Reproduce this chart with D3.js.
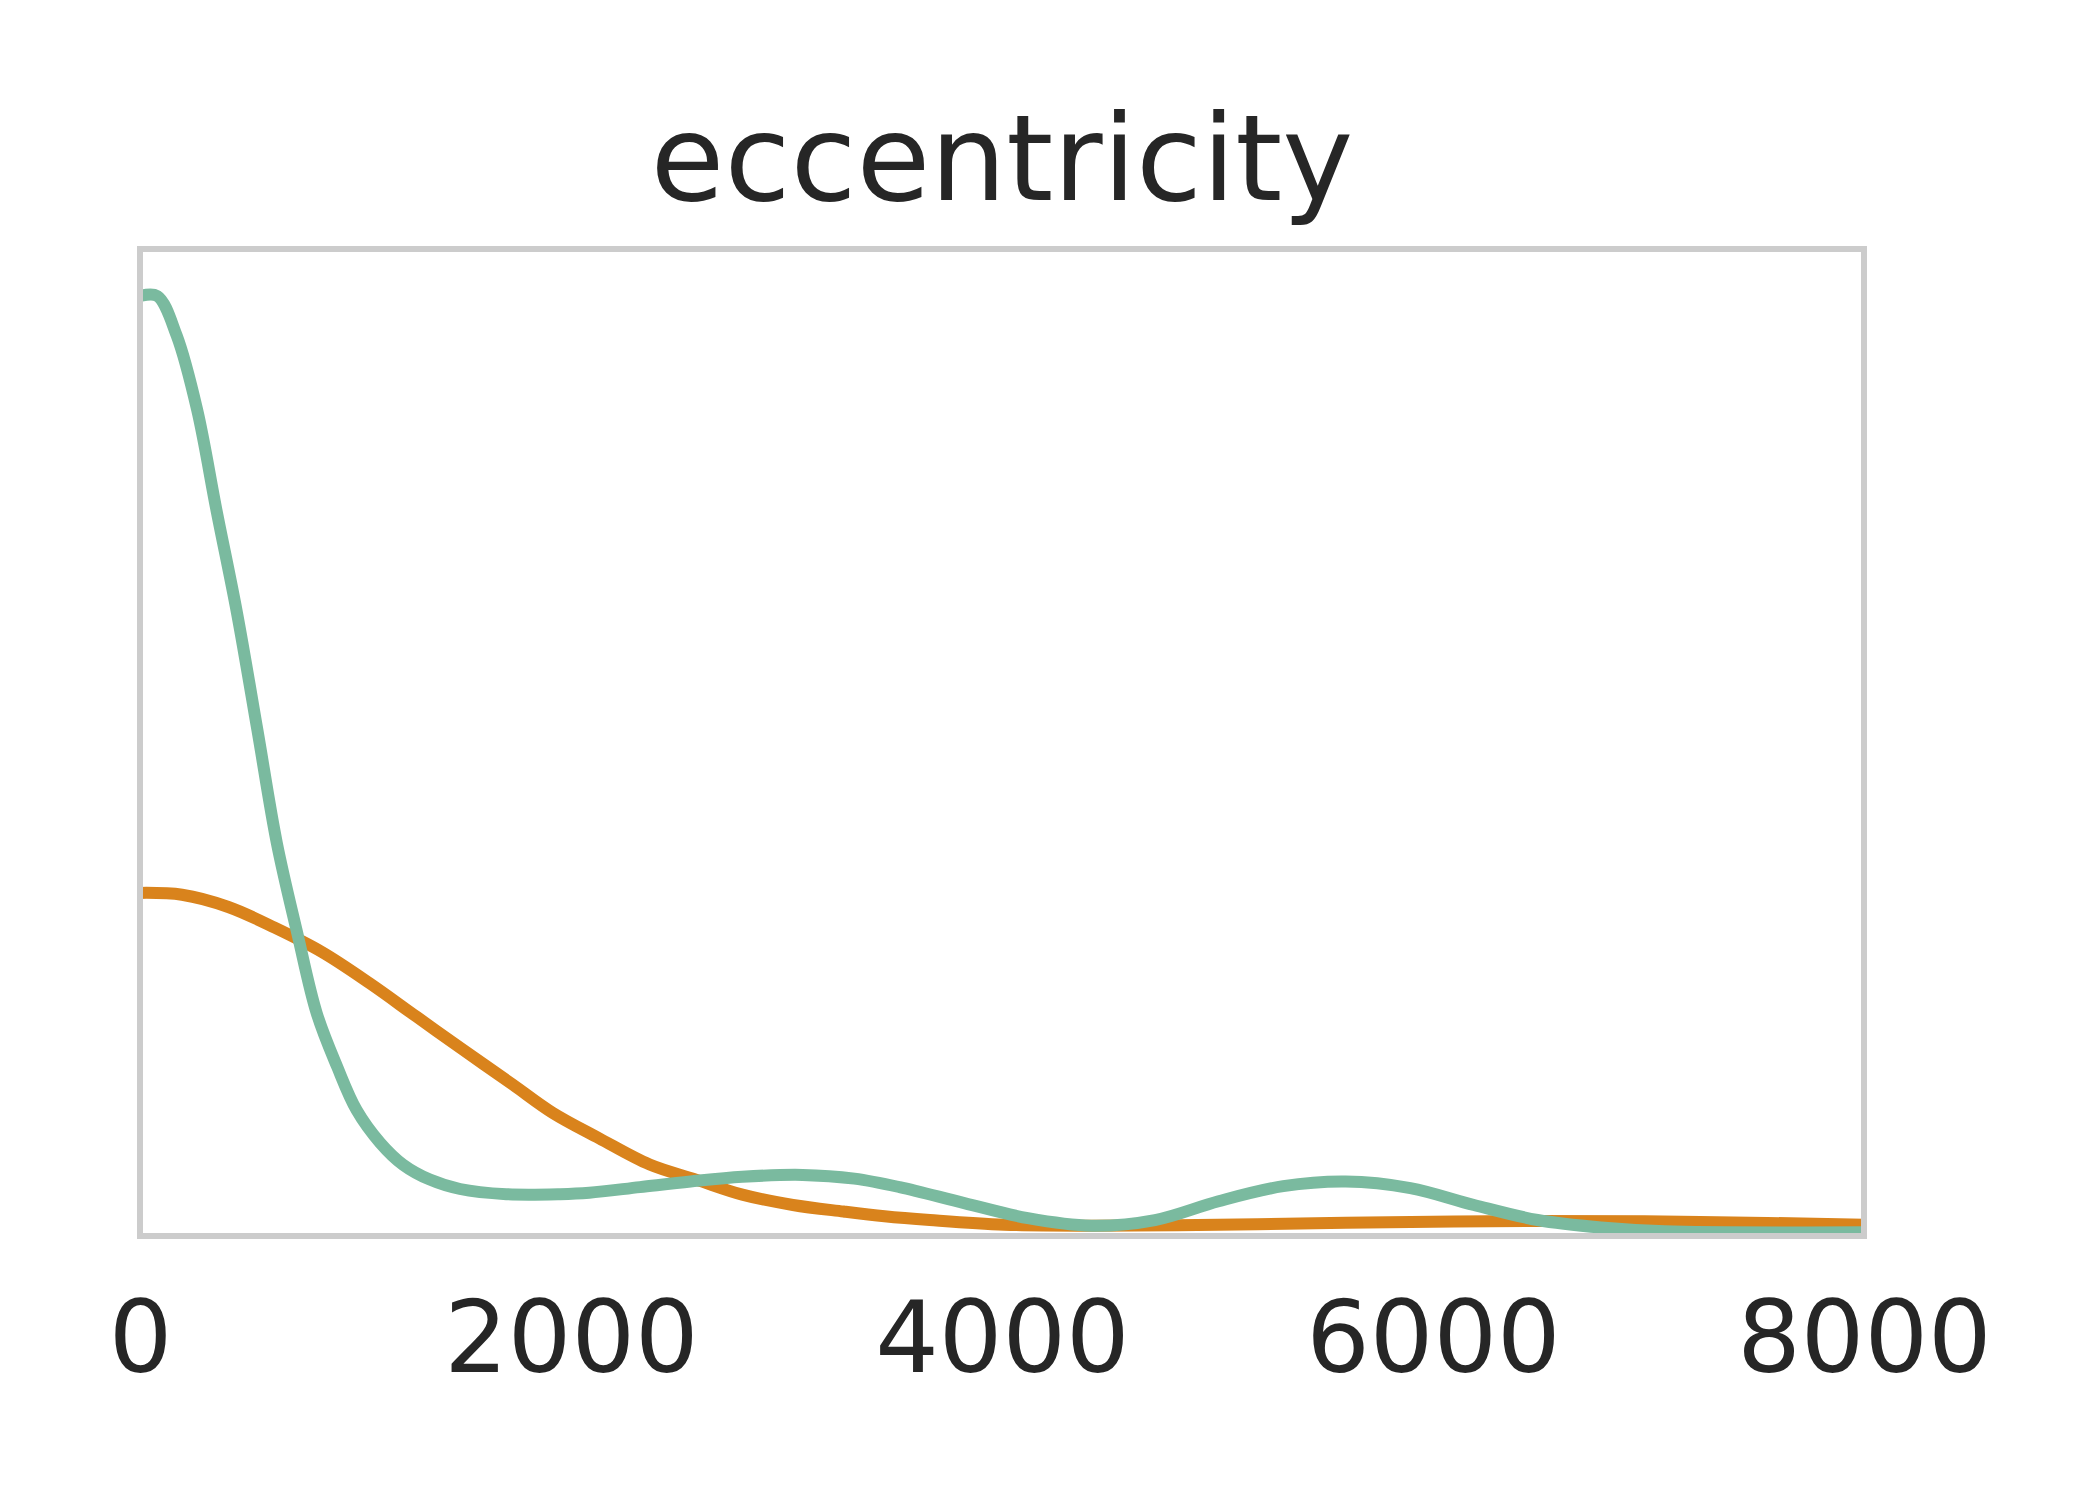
<!DOCTYPE html>
<html>
<head>
<meta charset="utf-8">
<script src="https://cdn.jsdelivr.net/npm/d3@7"></script>
<style>
  body { margin: 0; background: #fff; }
  text { font-family: "DejaVu Sans", sans-serif; fill: #262626; }
</style>
</head>
<body>
<div id="chart"></div>
<script>
// density curves (y in arbitrary density units)
var tealX = [0, 80, 170, 265, 355, 450, 545, 635, 730, 820, 915, 1005, 1115, 1220, 1345, 1485, 1700, 1950,
             2085, 2320, 2555, 2795, 3075, 3315, 3525, 3825, 4120, 4415, 4710, 5005, 5305, 5595, 5895,
             6190, 6485, 6780, 7075, 8000];
var tealY = [1.000, 1.000, 0.958, 0.879, 0.772, 0.663, 0.538, 0.418, 0.322, 0.237, 0.180, 0.134, 0.099, 0.076, 0.060, 0.050, 0.0445, 0.0445,
             0.046, 0.052, 0.058, 0.063, 0.065, 0.061, 0.052, 0.035, 0.019, 0.011, 0.017, 0.037, 0.053, 0.058, 0.051,
             0.033, 0.017, 0.009, 0.005, 0.004];

var orangeX = [0, 195, 410, 625, 845, 1065, 1285, 1500, 1730, 1915, 2130, 2365, 2580, 2795, 3030, 3265, 3455,
               3665, 4010, 4415, 5000, 5595, 6485, 7240, 8000];
var orangeY = [0.365, 0.363, 0.350, 0.328, 0.302, 0.269, 0.233, 0.198, 0.161, 0.131, 0.104, 0.076, 0.060, 0.044, 0.033, 0.026, 0.021,
               0.017, 0.012, 0.011, 0.012, 0.014, 0.016, 0.015, 0.012];

var xTicks = [0, 2000, 4000, 6000, 8000];
var title = "eccentricity";

var W = 2100, H = 1500;
var margin = {left: 140, right: 1864, top: 249, bottom: 1236};

var svg = d3.select("#chart").append("svg")
    .attr("width", W)
    .attr("height", H);

var x = d3.scaleLinear().domain([0, 8000]).range([margin.left, margin.right]);
var y = d3.scaleLinear().domain([0, 1.05]).range([margin.bottom, margin.top]);

svg.append("clipPath").attr("id", "plot")
  .append("rect")
    .attr("x", margin.left).attr("y", margin.top)
    .attr("width", margin.right - margin.left).attr("height", margin.bottom - margin.top);

var line = d3.line()
    .x(function(d) { return x(d[0]); })
    .y(function(d) { return y(d[1]); })
    .curve(d3.curveCatmullRom.alpha(0.5));

var series = [
  { xs: orangeX, ys: orangeY, color: "#d9831c" },
  { xs: tealX, ys: tealY, color: "#7aba9f" }
];

series.forEach(function(s) {
  svg.append("path")
      .datum(s.xs.map(function(v, i) { return [v, s.ys[i]]; }))
      .attr("clip-path", "url(#plot)")
      .attr("fill", "none")
      .attr("stroke", s.color)
      .attr("stroke-width", 12)
      .attr("stroke-linejoin", "round")
      .attr("d", line);
});

// frame
svg.append("rect")
    .attr("x", margin.left).attr("y", margin.top)
    .attr("width", margin.right - margin.left).attr("height", margin.bottom - margin.top)
    .attr("fill", "none")
    .attr("stroke", "#cccccc")
    .attr("stroke-width", 6);

// x axis labels only
var ax = svg.append("g")
    .attr("transform", "translate(0," + margin.bottom + ")")
    .call(d3.axisBottom(x).tickValues(xTicks).tickSize(0).tickFormat(d3.format("d")));
ax.select(".domain").remove();
ax.selectAll("text")
    .attr("dy", null)
    .attr("y", 136)
    .style("font-family", "DejaVu Sans")
    .style("font-size", "100px")
    .attr("fill", "#262626");

svg.append("text")
    .attr("x", (margin.left + margin.right) / 2)
    .attr("y", 200)
    .attr("text-anchor", "middle")
    .style("font-size", "120px")
    .text(title);
</script>
</body>
</html>
